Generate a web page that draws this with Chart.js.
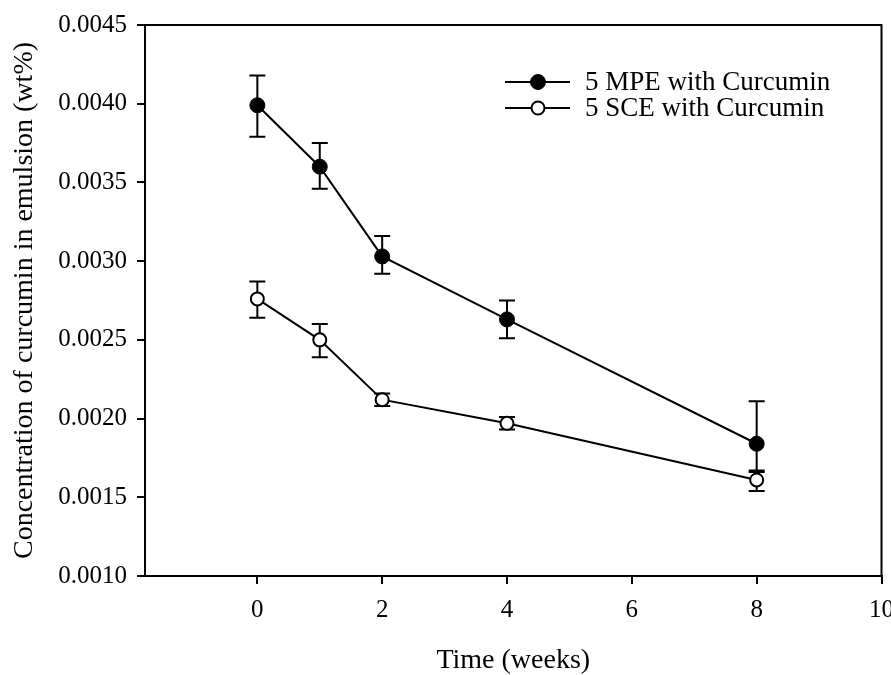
<!DOCTYPE html>
<html>
<head>
<meta charset="utf-8">
<title>Curcumin concentration</title>
<script src="https://cdn.jsdelivr.net/npm/chart.js@4.4.0/dist/chart.umd.min.js"></script>
<style>
  html, body { margin: 0; padding: 0; background: #fff; overflow: hidden; }
  #wrap { width: 905px; height: 675px; }
</style>
</head>
<body>
<div id="wrap"><canvas id="chart" width="905" height="675"></canvas></div>
<script>
//data
const weeks = [0, 1, 2, 4, 8];

const mpeLabel = "5 MPE with Curcumin";
const mpeValues = [0.00399, 0.00360, 0.00303, 0.00263, 0.00184];
const mpeLow = [0.00379, 0.00346, 0.00292, 0.00251, 0.00167];
const mpeHigh = [0.00418, 0.00375, 0.00316, 0.00275, 0.00211];

const sceLabel = "5 SCE with Curcumin";
const sceValues = [0.00276, 0.00250, 0.00212, 0.00197, 0.00161];
const sceLow = [0.00264, 0.00239, 0.00208, 0.00193, 0.00154];
const sceHigh = [0.00287, 0.00260, 0.00216, 0.00201, 0.00166];

const xTicks = [0, 2, 4, 6, 8, 10];
const yTicks = [0.0010, 0.0015, 0.0020, 0.0025, 0.0030, 0.0035, 0.0040, 0.0045];

const FONT = '"Liberation Serif", "Times New Roman", serif';

function toPoints(xs, ys) {
  return xs.map((x, i) => ({ x: x, y: ys[i] }));
}

//error bars, drawn under the markers
const errorBars = {
  id: "errorBars",
  beforeDatasetsDraw(chart) {
    const ctx = chart.ctx;
    const xs = chart.scales.x;
    const ys = chart.scales.y;
    ctx.save();
    ctx.strokeStyle = "#000";
    ctx.lineWidth = 2;
    chart.data.datasets.forEach((ds) => {
      ds.data.forEach((p, i) => {
        const px = xs.getPixelForValue(p.x);
        const top = ys.getPixelForValue(ds.errHigh[i]);
        const bot = ys.getPixelForValue(ds.errLow[i]);
        ctx.beginPath();
        ctx.moveTo(px, top);
        ctx.lineTo(px, bot);
        ctx.moveTo(px - 8, top);
        ctx.lineTo(px + 8, top);
        ctx.moveTo(px - 8, bot);
        ctx.lineTo(px + 8, bot);
        ctx.stroke();
      });
    });
    ctx.restore();
  },
};

//box round the plot + legend inside the top right corner
const frameAndLegend = {
  id: "frameAndLegend",
  afterDraw(chart) {
    const ctx = chart.ctx;
    const a = chart.chartArea;
    ctx.save();
    ctx.strokeStyle = "#000";
    ctx.lineWidth = 2;
    ctx.beginPath();
    ctx.moveTo(a.left, a.top);
    ctx.lineTo(a.right, a.top);
    ctx.lineTo(a.right, a.bottom);
    ctx.stroke();

    ctx.font = "27px " + FONT;
    ctx.textBaseline = "middle";
    ctx.textAlign = "left";
    chart.data.datasets.forEach((ds, i) => {
      const y = 82 + i * 26;
      ctx.beginPath();
      ctx.lineWidth = 2;
      ctx.strokeStyle = "#000";
      ctx.moveTo(505, y);
      ctx.lineTo(570, y);
      ctx.stroke();
      ctx.beginPath();
      ctx.arc(538, y, ds.pointRadius, 0, Math.PI * 2);
      ctx.fillStyle = ds.pointBackgroundColor;
      ctx.fill();
      ctx.lineWidth = ds.pointBorderWidth;
      ctx.stroke();
      ctx.fillStyle = "#000";
      ctx.fillText(ds.label, 585, y + 1);
    });
    ctx.restore();
  },
};

const myChart = new Chart(document.getElementById("chart"), {
  type: "line",
  plugins: [errorBars, frameAndLegend],
  data: {
    datasets: [
      {
        label: mpeLabel,
        data: toPoints(weeks, mpeValues),
        errLow: mpeLow,
        errHigh: mpeHigh,
        borderColor: "#000",
        borderWidth: 2,
        pointRadius: 7.5,
        pointBackgroundColor: "#000",
        pointBorderColor: "#000",
        pointBorderWidth: 1,
        tension: 0,
      },
      {
        label: sceLabel,
        data: toPoints(weeks, sceValues),
        errLow: sceLow,
        errHigh: sceHigh,
        borderColor: "#000",
        borderWidth: 2,
        pointRadius: 6.5,
        pointBackgroundColor: "#fff",
        pointBorderColor: "#000",
        pointBorderWidth: 2,
        tension: 0,
      },
    ],
  },
  options: {
    responsive: false,
    animation: false,
    layout: { padding: { top: 24, left: 0, right: 0, bottom: 0 } },
    plugins: {
      legend: { display: false },
      tooltip: { enabled: false },
    },
    scales: {
      x: {
        type: "linear",
        min: -1.8,
        max: 10,
        afterBuildTicks: (s) => { s.ticks = xTicks.map((v) => ({ value: v })); },
        afterFit: (s) => { s.height = 99; },
        grid: { drawOnChartArea: false, drawTicks: true, tickLength: 8, color: "#000", lineWidth: 2 },
        border: { display: true, color: "#000", width: 2 },
        ticks: {
          color: "#000",
          font: { family: FONT, size: 25 },
          padding: 11,
          maxRotation: 0,
          autoSkip: false,
          callback: (v) => String(v),
        },
        title: {
          display: true,
          text: "Time (weeks)",
          color: "#000",
          font: { family: FONT, size: 28 },
          padding: { top: 0, bottom: -2 },
        },
      },
      y: {
        min: 0.001,
        max: 0.0045,
        afterBuildTicks: (s) => { s.ticks = yTicks.map((v) => ({ value: v })); },
        afterFit: (s) => { s.width = 145; },
        grid: { drawOnChartArea: false, drawTicks: true, tickLength: 8, color: "#000", lineWidth: 2 },
        border: { display: true, color: "#000", width: 2 },
        ticks: {
          color: "#000",
          font: { family: FONT, size: 25 },
          padding: 10,
          autoSkip: false,
          callback: (v) => v.toFixed(4),
        },
        title: {
          display: true,
          text: "Concentration of curcumin in emulsion (wt%)",
          color: "#000",
          font: { family: FONT, size: 28 },
          padding: { top: 8, bottom: 0 },
        },
      },
    },
  },
});
</script>
</body>
</html>
